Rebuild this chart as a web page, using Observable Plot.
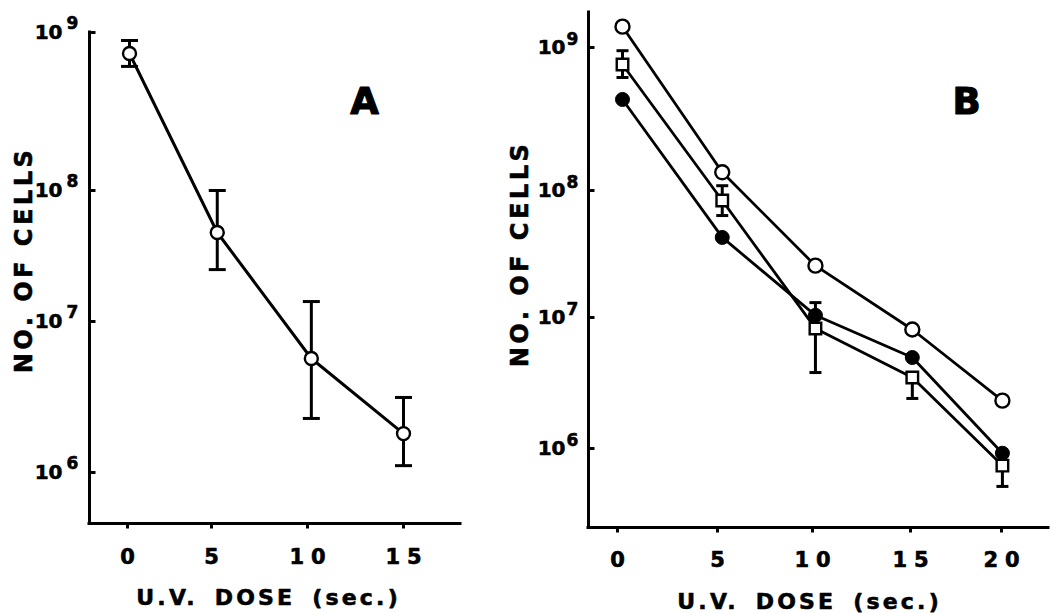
<!DOCTYPE html>
<html>
<head>
<meta charset="utf-8">
<script src="https://cdn.jsdelivr.net/npm/d3@7"></script>
<script src="https://cdn.jsdelivr.net/npm/@observablehq/plot@0.6"></script>
<style>
  html, body { margin: 0; padding: 0; background: #fff; }
  #wrap { position: relative; width: 1051px; height: 613px; overflow: hidden; background: #fff; }
  #wrap svg { position: absolute; top: 0; font-family: "DejaVu Sans"; }
  text[aria-label="x-title"] { letter-spacing: 3.2px; word-spacing: 6px; }
  text[aria-label="y-title"] { letter-spacing: 3.5px; }
  text[aria-label="x-tick-label"] { letter-spacing: 7px; }
</style>
</head>
<body>
<div id="wrap"></div>
<script>
// ---------- data ----------
// Panel A
const doseA = [0.12, 5.3, 10.2, 15];
const cellsA = [7.36e8, 4.78e7, 5.69e6, 1.81e6];
const cellsAHigh = [8.9e8, 1.0e8, 1.42e7, 3.14e6];
const cellsALow = [6.1e8, 2.49e7, 2.28e6, 1.11e6];

// Panel B
const doseB = [0.25, 5.25, 10.15, 15.1, 20.05];
const openB = [1.40e9, 1.34e8, 2.56e7, 8.1e6, 2.32e6];
const filledB = [4.33e8, 4.27e7, 1.04e7, 4.95e6, 9.2e5];
const squareB = [7.6e8, 8.34e7, 8.25e6, 3.48e6, 7.4e5];
const squareBHigh = [9.5e8, 1.08e8, 1.31e7, 3.48e6, 7.4e5];
const squareBLow = [6.17e8, 6.35e7, 3.8e6, 2.41e6, 5.13e5];

// ticks & labels
const xTicksA = [0, 5, 10, 15];
const xTicksB = [0, 5, 10, 15, 20];
const yTicks = [1e6, 1e7, 1e8, 1e9];
const yTickBase = "10";
const yTickExp = ["6", "7", "8", "9"];
const xTitle = "U.V. DOSE (sec.)";
const yTitle = "NO. OF CELLS";
const panelLabels = ["A", "B"];

// ---------- helpers ----------
const FONT = "DejaVu Sans";
const ink = "#000";
const capSym = {draw(ctx, size) { const h = Math.sqrt(size / Math.PI); ctx.moveTo(-h, 0); ctx.lineTo(h, 0); }};
const tickRightSym = {draw(ctx, size) { const h = Math.sqrt(size / Math.PI); ctx.moveTo(0, 0); ctx.lineTo(h, 0); }};
const tickDownSym = {draw(ctx, size) { const h = Math.sqrt(size / Math.PI); ctx.moveTo(0, 0); ctx.lineTo(0, h); }};
const heavy = {fontWeight: "bold", fontFamily: FONT, fill: ink, stroke: ink, strokeWidth: 0.6, paintOrder: "normal"};

function table(xs, ys) { return xs.map((x, i) => ({x, y: ys[i]})); }
function errTable(xs, lo, hi) { return xs.map((x, i) => ({x, lo: lo[i], hi: hi[i]})); }

function axesMarks(cfg) {
  return [
    Plot.ruleX([cfg.xDomain[0]], {stroke: ink, strokeWidth: 3, strokeLinecap: "square"}),
    Plot.ruleY([cfg.yDomain[0]], {stroke: ink, strokeWidth: 3, strokeLinecap: "square"}),
    Plot.dot(yTicks, {y: d => d, frameAnchor: "left", symbol: tickRightSym, r: 6, fill: "none", stroke: ink, strokeWidth: 3}),
    Plot.dot(cfg.xTicks, {x: d => d, frameAnchor: "bottom", symbol: tickDownSym, r: 5, fill: "none", stroke: ink, strokeWidth: 3}),
    Plot.text(yTicks, {y: d => d, frameAnchor: "left", text: () => yTickBase, textAnchor: "end", lineAnchor: "middle",
      dx: cfg.baseDx, dy: 0, fontSize: 20, ...heavy}),
    Plot.text(yTicks, {y: d => d, frameAnchor: "left", text: (d, i) => yTickExp[i], textAnchor: "start", lineAnchor: "middle",
      dx: cfg.expDx, dy: cfg.expDy, fontSize: 17, ...heavy}),
    Plot.text(cfg.xTicks, {x: d => d, frameAnchor: "bottom", text: d => String(d), textAnchor: "middle", lineAnchor: "middle",
      dx: 3.5, dy: cfg.tickLabelDy, fontSize: 21, ...heavy, ariaLabel: () => "x-tick-label"}),
    Plot.text([xTitle], {frameAnchor: "bottom", text: d => d, textAnchor: "middle", lineAnchor: "middle", dx: cfg.xTitleDx, dy: cfg.xTitleDy,
      fontSize: 22, ...heavy, ariaLabel: () => "x-title"}),
    Plot.text([yTitle], {frameAnchor: "left", text: d => d, rotate: -90, textAnchor: "middle", lineAnchor: "middle", dx: cfg.yTitleDx, dy: cfg.yTitleDy,
      fontSize: 24, ...heavy, ariaLabel: () => "y-title"}),
    Plot.text([cfg.label], {frameAnchor: "top-left", text: d => d, textAnchor: "middle", lineAnchor: "middle", dx: cfg.labelDx, dy: cfg.labelDy,
      fontSize: 37, ...heavy, strokeWidth: 1.2})
  ];
}

// ---------- Panel A ----------
const cfgA = {
  xDomain: [-2.26, 0, 5, 10, 15, 17.97], xRange: [89, 127, 211, 307, 403, 460],
  yDomain: [4.59e5, 1e6, 1e7, 1e8, 1e9], yRange: [523, 472, 321, 190, 32],
  xTicks: xTicksA, baseDx: -27, expDx: -23, expDy: -9, tickLabelDy: 33.5,
  xTitleDx: -6.4, xTitleDy: 74, yTitleDx: -65, yTitleDy: -18,
  label: panelLabels[0], labelDx: 275, labelDy: 70
};
const plotA = Plot.plot({
  width: 490, height: 613,
  marginLeft: 89, marginRight: 30, marginTop: 32, marginBottom: 90,
  style: {fontFamily: FONT, background: "transparent"},
  x: {type: "linear", domain: cfgA.xDomain, range: cfgA.xRange, axis: null},
  y: {type: "log", domain: cfgA.yDomain, range: cfgA.yRange, axis: null},
  marks: [
    ...axesMarks(cfgA),
    Plot.line(table(doseA, cellsA), {x: "x", y: "y", stroke: ink, strokeWidth: 3}),
    Plot.ruleX(errTable(doseA, cellsALow, cellsAHigh), {x: "x", y1: "lo", y2: "hi", stroke: ink, strokeWidth: 3}),
    Plot.dot(errTable(doseA, cellsALow, cellsAHigh), {x: "x", y: "hi", symbol: capSym, r: 8.5, fill: "none", stroke: ink, strokeWidth: 3}),
    Plot.dot(errTable(doseA, cellsALow, cellsAHigh), {x: "x", y: "lo", symbol: capSym, r: 8.5, fill: "none", stroke: ink, strokeWidth: 3}),
    Plot.dot(table(doseA, cellsA), {x: "x", y: "y", r: 6.5, fill: "white", stroke: ink, strokeWidth: 2.4})
  ]
});
plotA.style.left = "0px";

// ---------- Panel B ----------
const cfgB = {
  xDomain: [-1.45, 0, 5, 10, 15, 20, 22.58], xRange: [98, 127, 227, 322, 420, 511, 558],
  yDomain: [2.49e5, 1e6, 1e7, 1e8, 1e9, 1.76e9], yRange: [527, 448, 317, 190, 47, 12],
  xTicks: xTicksB, baseDx: -23, expDx: -22, expDy: -8, tickLabelDy: 32.5,
  xTitleDx: -8.9, xTitleDy: 74, yTitleDx: -68, yTitleDy: -16,
  label: panelLabels[1], labelDx: 378, labelDy: 90
};
const plotB = Plot.plot({
  width: 561, height: 613,
  marginLeft: 98, marginRight: 3, marginTop: 12, marginBottom: 86,
  style: {fontFamily: FONT, background: "transparent"},
  x: {type: "linear", domain: cfgB.xDomain, range: cfgB.xRange, axis: null},
  y: {type: "log", domain: cfgB.yDomain, range: cfgB.yRange, axis: null},
  marks: [
    ...axesMarks(cfgB),
    Plot.line(table(doseB, openB), {x: "x", y: "y", stroke: ink, strokeWidth: 2.8}),
    Plot.line(table(doseB, filledB), {x: "x", y: "y", stroke: ink, strokeWidth: 2.8}),
    Plot.line(table(doseB, squareB), {x: "x", y: "y", stroke: ink, strokeWidth: 2.8}),
    Plot.ruleX(errTable(doseB, squareBLow, squareBHigh), {x: "x", y1: "lo", y2: "hi", stroke: ink, strokeWidth: 3}),
    Plot.dot(errTable(doseB, squareBLow, squareBHigh), {x: "x", y: "hi", symbol: capSym, r: 6, fill: "none", stroke: ink, strokeWidth: 3}),
    Plot.dot(errTable(doseB, squareBLow, squareBHigh), {x: "x", y: "lo", symbol: capSym, r: 6, fill: "none", stroke: ink, strokeWidth: 3}),
    Plot.dot(table(doseB, openB), {x: "x", y: "y", r: 7, fill: "white", stroke: ink, strokeWidth: 2.4}),
    Plot.dot(table(doseB, filledB), {x: "x", y: "y", r: 7, fill: ink, stroke: ink, strokeWidth: 1}),
    Plot.dot(table(doseB, squareB), {x: "x", y: "y", symbol: "square", r: 6.5, fill: "white", stroke: ink, strokeWidth: 2.4})
  ]
});
plotB.style.left = "490px";

const wrap = document.getElementById("wrap");
wrap.appendChild(plotA);
wrap.appendChild(plotB);
</script>
</body>
</html>
